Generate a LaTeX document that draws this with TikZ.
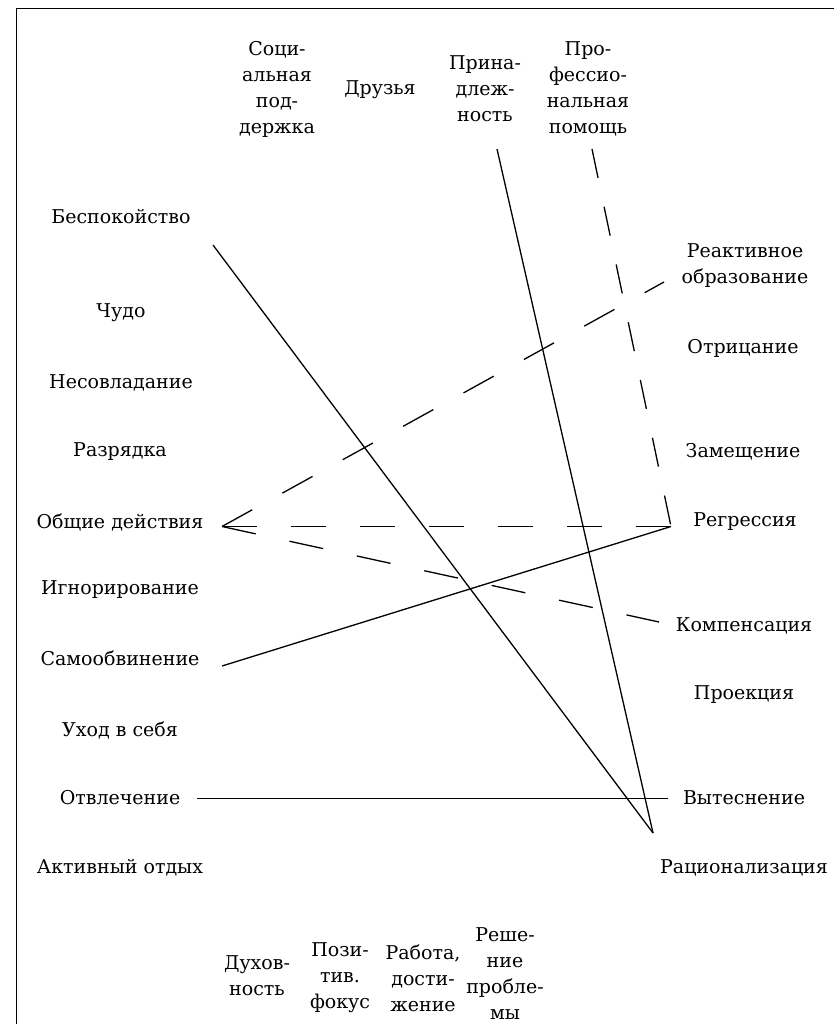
\documentclass[tikz,border=0pt]{standalone}
\usepackage{fontspec}
\setmainfont{DejaVu Serif}
\begin{document}
\begin{tikzpicture}[x=1pt,y=-1pt,
  lbl/.style={align=center,inner sep=0pt,font=\fontsize{19}{26}\selectfont},
  conn/.style={line width=1.3pt,black},
  dashA/.style={conn,dash pattern=on 34.5pt off 34.5pt},
  dashB/.style={conn,dash pattern=on 29.5pt off 29.5pt}]
\useasboundingbox (0,0) rectangle (834,1024);
\begin{scope}
\clip (0,0) rectangle (834,1024);
\draw[line width=1.6pt] (16.5,8.5) rectangle (900,1100);
\end{scope}
% top row
\node[lbl] (soc) at (277,89) {Соци-\\альная\\под-\\держка};
\node[lbl] (dru) at (380,90) {Друзья};
\node[lbl] (pri) at (485,89) {Прина-\\длеж-\\ность};
\node[lbl] (prof) at (588,89) {Про-\\фессио-\\нальная\\помощь};
% left column
\node[lbl] (bes) at (121,217) {Беспокойство};
\node[lbl] (chu) at (121,313) {Чудо};
\node[lbl] (nes) at (121,383) {Несовладание};
\node[lbl] (raz) at (120,452) {Разрядка};
\node[lbl] (obs) at (120,522) {Общие действия};
\node[lbl] (ign) at (120,590) {Игнорирование};
\node[lbl] (sam) at (120,658) {Самообвинение};
\node[lbl] (uho) at (120,730) {Уход в себя};
\node[lbl] (otv) at (120,798) {Отвлечение};
\node[lbl] (akt) at (120,868) {Активный отдых};
% right column
\node[lbl] (rea) at (745,266) {Реактивное\\образование};
\node[lbl] (otr) at (743,348) {Отрицание};
\node[lbl] (zam) at (743,452) {Замещение};
\node[lbl] (reg) at (745,522) {Регрессия};
\node[lbl] (kom) at (744,626) {Компенсация};
\node[lbl] (prj) at (744,695) {Проекция};
\node[lbl] (vyt) at (744,798) {Вытеснение};
\node[lbl] (rat) at (744,868) {Рационализация};
% bottom row
\node[lbl] (duh) at (257,976) {Духов-\\ность};
\node[lbl] (poz) at (340,978) {Пози-\\тив.\\фокус};
\node[lbl] (rab) at (423,978) {Работа,\\дости-\\жение};
\node[lbl] (res) at (505,974) {Реше-\\ние\\пробле-\\мы};
% ports
\coordinate (bes-p) at (213,245);
\coordinate (pri-p) at (497,149);
\coordinate (prof-p) at (592,149);
\coordinate (rat-p) at (653,833);
\coordinate (reg-p) at (671,526.5);
\coordinate (obs-p) at (222,526.5);
\coordinate (rea-p) at (664,282);
\coordinate (kom-p) at (659,622);
\coordinate (sam-p) at (222,666);
\coordinate (otv-p) at (197,798.5);
\coordinate (vyt-p) at (668,798.5);
% connectors
\draw[conn] (bes-p) -- (rat-p);
\draw[conn] (pri-p) -- (rat-p);
\draw[dashB] (prof-p) -- (reg-p);
\draw[dashA] (obs-p) -- (reg-p);
\draw[dashA] (obs-p) -- (rea-p);
\draw[dashA] (obs-p) -- (kom-p);
\draw[conn] (sam-p) -- (reg-p);
\draw[conn] (otv-p) -- (vyt-p);
\end{tikzpicture}
\end{document}
